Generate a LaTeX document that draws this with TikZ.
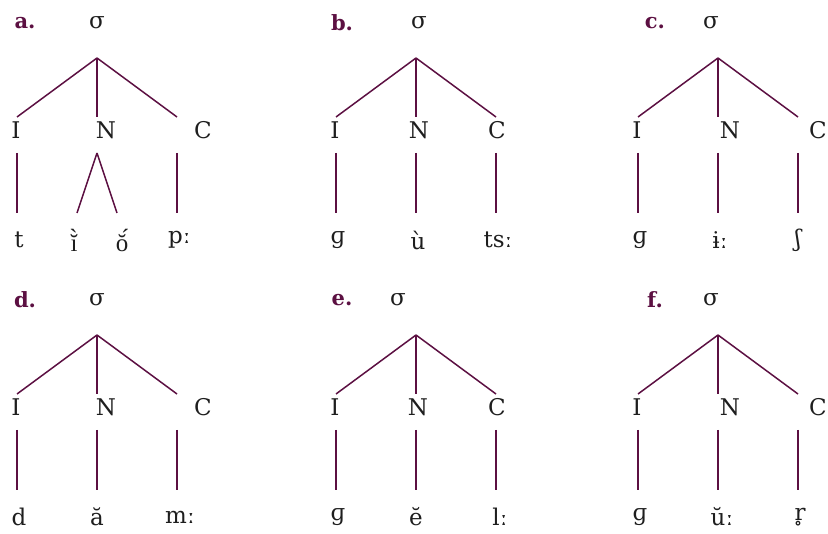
\documentclass[tikz,border=0pt]{standalone}
\usepackage{fontspec}
\setmainfont{DejaVu Serif}
\newfontfamily\myaccfont{Liberation Serif}
\definecolor{plum}{RGB}{92,16,66}
\definecolor{ink}{RGB}{30,30,30}
\tikzset{
  txt/.style={inner sep=0pt, text=ink, font=\fontsize{23}{26}\selectfont, anchor=center},
  lbl/.style={inner sep=0pt, text=plum, font=\fontsize{21}{24}\selectfont\bfseries, anchor=center},
  br/.style={draw=plum, line width=1.5pt},
}
% #1 prefix, #2 x of I line, #3 y offset, #4 label x, #5 label, #6 sigma x, #7 N text x, #8 C text x
\newcommand\mytoptree[8]{%
  \node[lbl] (#1lab) at (#4,#3+23) {#5};
  \node[txt] (#1s) at (#6,#3+23) {σ};
  \coordinate (#1a) at (#2+80,#3+58);
  \node[txt] (#1I) at (#2-1,#3+130) {I};
  \node[txt] (#1N) at (#7,#3+130) {N};
  \node[txt] (#1C) at (#8,#3+130) {C};
  \coordinate (#1eI) at (#2,#3+117);
  \coordinate (#1eN) at (#2+80,#3+117);
  \coordinate (#1eC) at (#2+160,#3+117);
  \draw[br] (#1a) -- (#1eI);
  \draw[br] (#1a) -- (#1eN);
  \draw[br] (#1a) -- (#1eC);
  \coordinate (#1tI) at (#2,#3+153);
  \coordinate (#1bI) at (#2,#3+213);
  \coordinate (#1tN) at (#2+80,#3+153);
  \coordinate (#1bN) at (#2+80,#3+213);
  \coordinate (#1tC) at (#2+160,#3+153);
  \coordinate (#1bC) at (#2+160,#3+213);
  \draw[br] (#1tI) -- (#1bI);
  \draw[br] (#1tC) -- (#1bC);
}
\begin{document}
\begin{tikzpicture}[x=1pt,y=-1pt]
\useasboundingbox (0,0) rectangle (828,534);
% a
\mytoptree{a}{17}{0}{25}{a.}{97}{106}{203}
\coordinate (aL) at (77,213);
\coordinate (aR) at (117,213);
\draw[br] (atN) -- (aL);
\draw[br] (atN) -- (aR);
\node[txt] (a1) at (19,240) {t};
\node[txt] (a2) at (74,240) {\myaccfont\fontsize{25}{28}\selectfont i^^^^0306^^^^0300};
\node[txt] (a3) at (122,240) {\myaccfont\fontsize{25}{28}\selectfont o^^^^0306^^^^0301};
\node[txt,anchor=west] (a4) at (168,240) {pː};
% b
\mytoptree{b}{336}{0}{342}{b.}{419}{419}{497}
\draw[br] (btN) -- (bbN);
\node[txt] (b1) at (338,240) {ɡ};
\node[txt] (b2) at (418,240) {ù};
\node[txt] (b3) at (498,240) {tsː};
% c
\mytoptree{c}{638}{0}{655}{c.}{711}{730}{818}
\draw[br] (ctN) -- (cbN);
\node[txt] (c1) at (640,240) {ɡ};
\node[txt] (c2) at (720,240) {ɨː};
\node[txt] (c3) at (798,240) {ʃ};
% d
\mytoptree{d}{17}{277}{25}{d.}{97}{106}{203}
\draw[br] (dtN) -- (dbN);
\node[txt] (d1) at (19,517) {d};
\node[txt] (d2) at (97,517) {ă};
\node[txt] (d3) at (180,517) {mː};
% e
\mytoptree{e}{336}{277}{342}{e.}{398}{418}{497}
\draw[br] (etN) -- (ebN);
\node[txt] (e1) at (338,517) {ɡ};
\node[txt] (e2) at (416,517) {ĕ};
\node[txt] (e3) at (500,517) {lː};
% f
\mytoptree{f}{638}{277}{655}{f.}{711}{730}{818}
\draw[br] (ftN) -- (fbN);
\node[txt] (f1) at (640,517) {ɡ};
\node[txt] (f2) at (722,517) {ŭː};
\node[txt] (f3) at (800,517) {r̥};
\end{tikzpicture}
\end{document}
